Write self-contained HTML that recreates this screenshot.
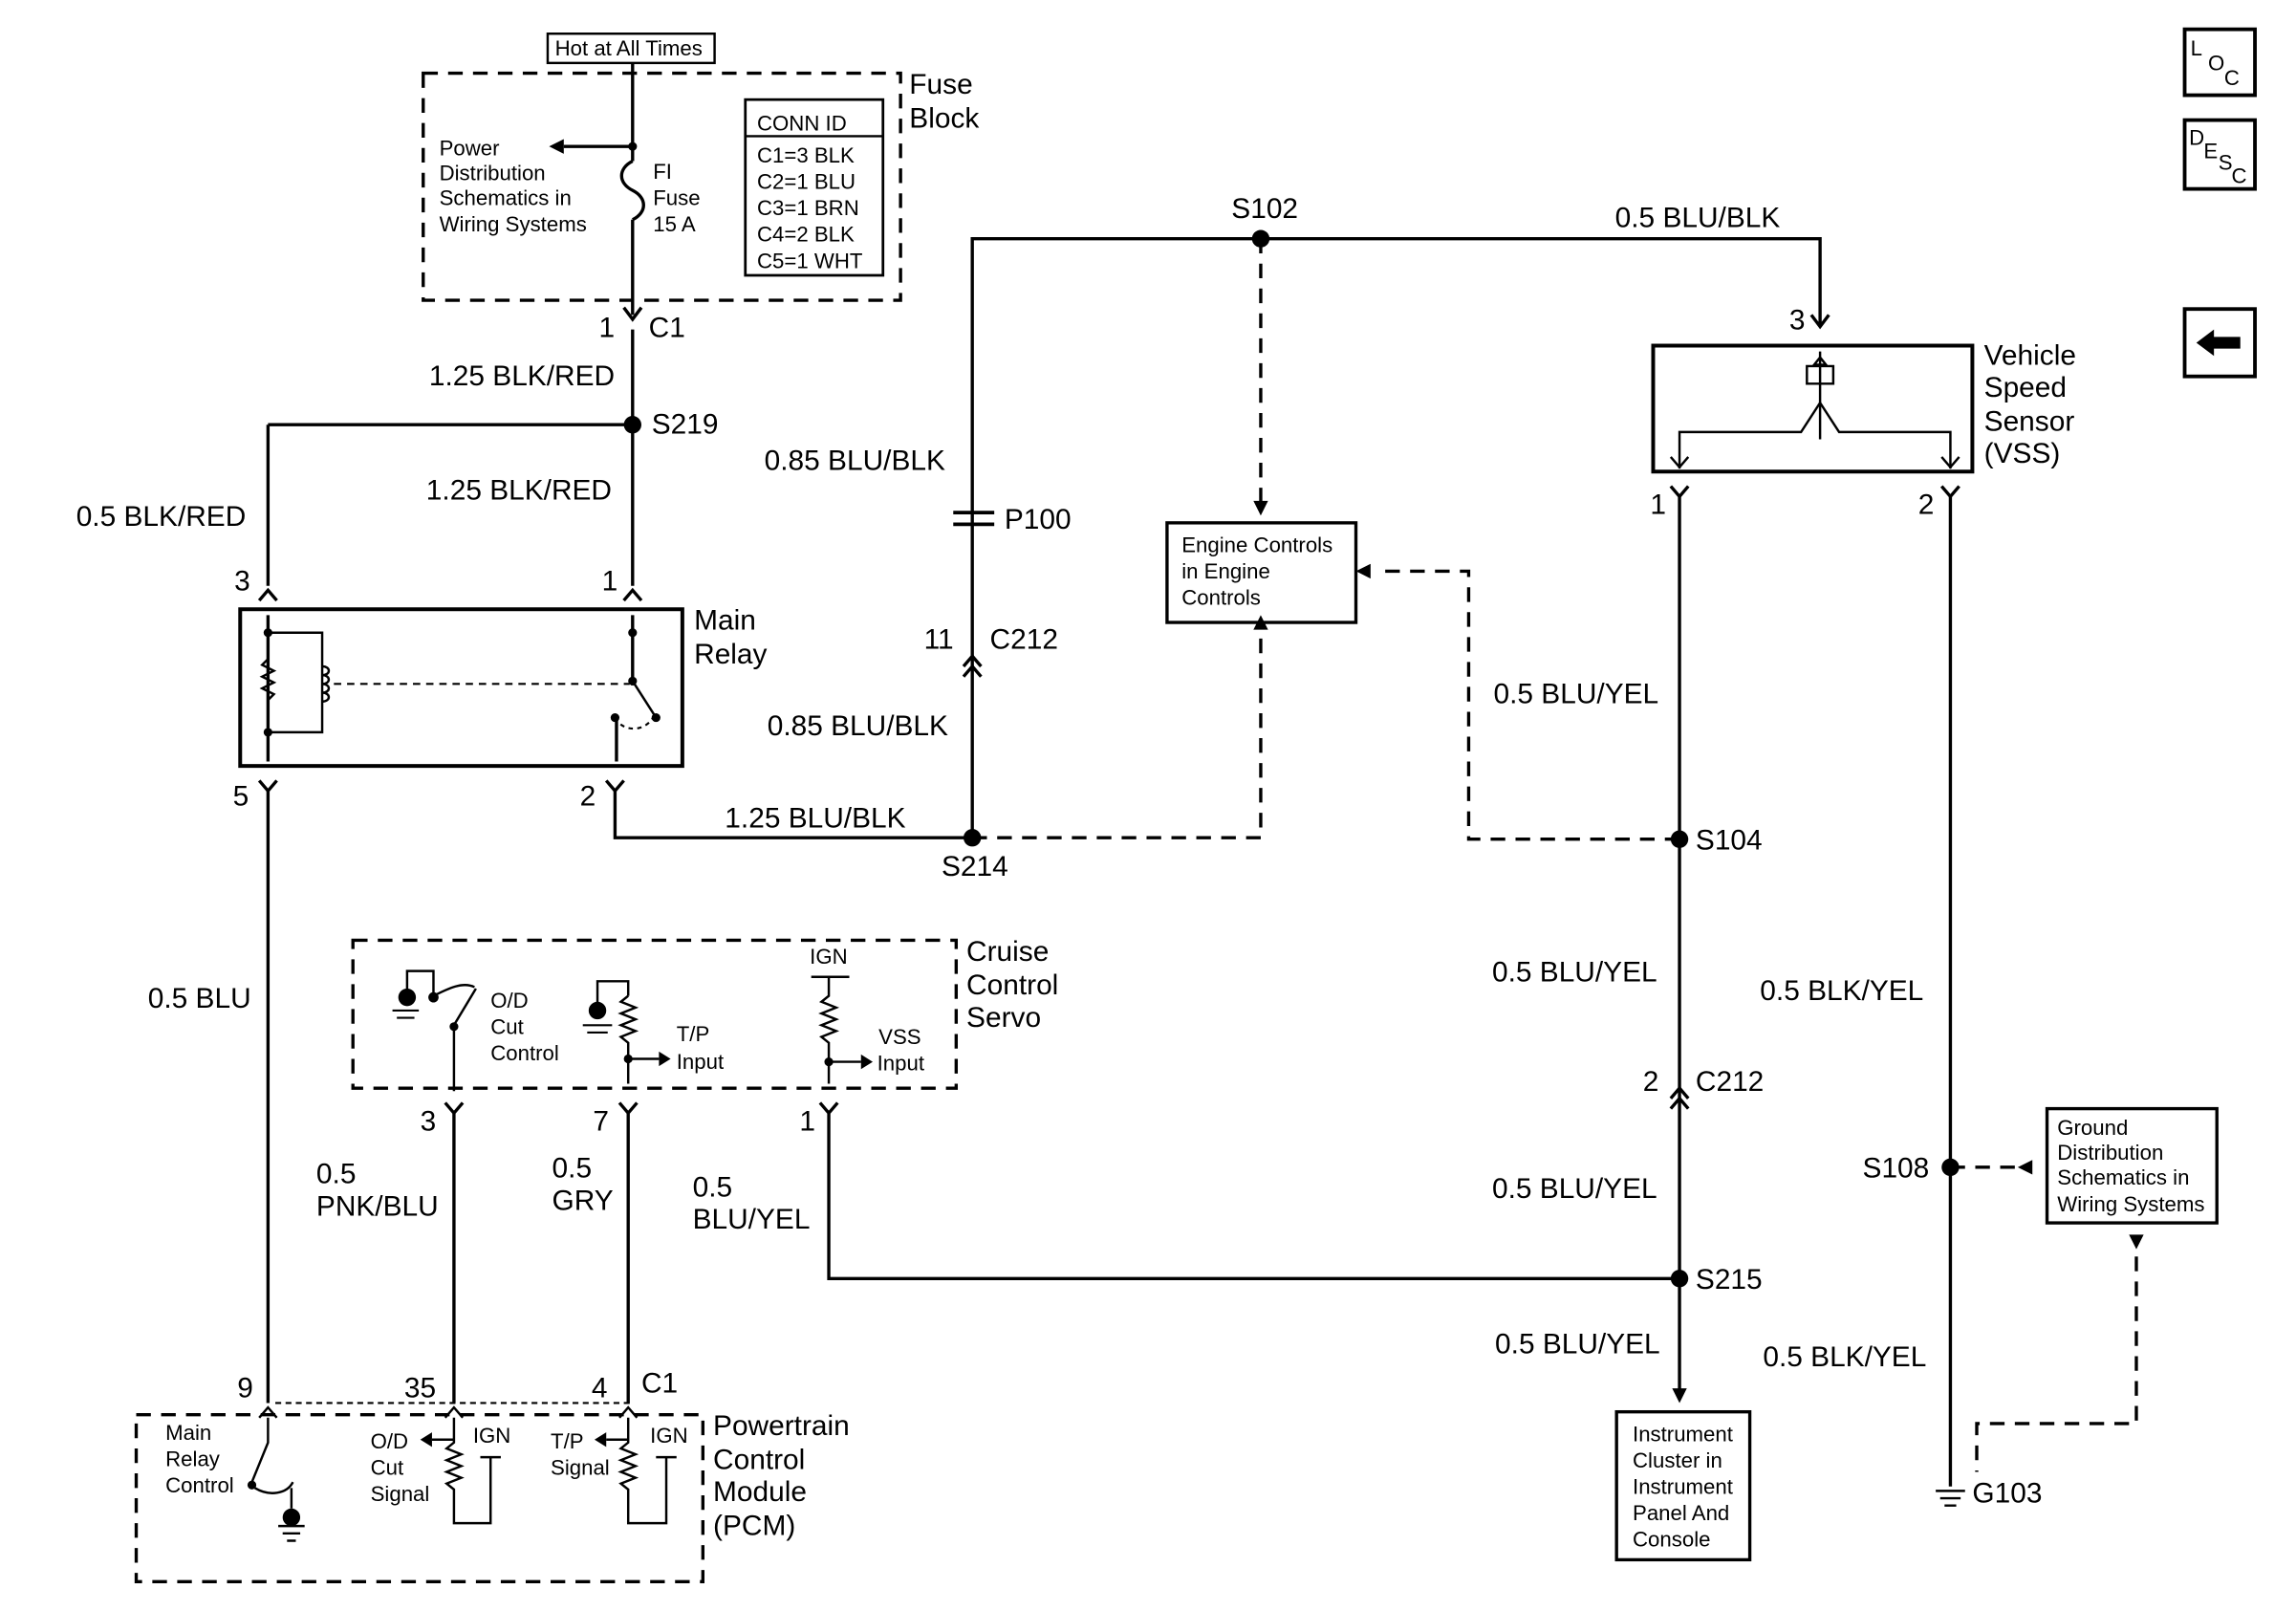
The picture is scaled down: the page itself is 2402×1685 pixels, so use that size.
<!DOCTYPE html>
<html><head><meta charset="utf-8"><style>html,body{margin:0;padding:0;background:#fff;}svg{display:block}</style></head>
<body>
<svg xmlns="http://www.w3.org/2000/svg" width="2402" height="1685" viewBox="0 0 1568 1100" font-family="Liberation Sans, Arial, sans-serif">
<rect width="1568" height="1100" fill="#fff"/>
<g fill="none" stroke="#000" stroke-width="2.2">
<rect x="289" y="50" width="326" height="155" stroke-dasharray="10,7"/>
<rect x="374" y="23" width="114" height="20" stroke-width="1.6"/>
<rect x="509" y="68" width="94" height="120" stroke-width="1.8"/>
<line x1="509" y1="93" x2="603" y2="93" stroke-width="1.5"/>
<path d="M432 43V110 M432 150V215 M432 110c-10 5-10 15 0 20c10 5 10 15 0 20"/>
<path d="M432 100H385"/>
<path d="M426 210l6 8l6-8 M432 225V290 M183 290H432 M432 290V400 M183 290V400"/>
<path d="M177 410l6-7l6 7 M426 410l6-7l6 7"/>
<rect x="164" y="416" width="302" height="107" stroke-width="2.6"/>
<path d="M183 420V520 M432 420V468 M421 520V490"/>
<path d="M183 432H220V500H183 M183 450l-4 4l8 4l-8 4l8 4l-8 4l8 4l-4 4" stroke-width="1.6"/>
<path d="M220 455c6 0 6 6 0 6c6 0 6 6 0 6c6 0 6 6 0 6c6 0 6 6 0 6" stroke-width="1.6"/>
<path d="M228 467H430" stroke-dasharray="5,4" stroke-width="1.4"/>
<path d="M432 465L448 490" stroke-width="1.6"/>
<path d="M420 490c5 10 20 10 26 0" stroke-dasharray="3,3" stroke-width="1.4"/>
<path d="M177 533l6 7l6-7 M414 533l6 7l6-7"/>
<path d="M183 540V958 M420 540V572H664"/>
<path d="M664 572H861V432" stroke-dasharray="10,7"/>
<path d="M664 572V163H1243V222 M1237 215l6 8l6-8"/>
<path d="M861 163V345" stroke-dasharray="10,7"/>
<path d="M651 350H679M651 358H679" stroke-width="2.5"/>
<path d="M658 455l6-7l6 7 M658 462l6-7l6 7"/>
<rect x="797" y="357" width="129" height="68" stroke-width="2.2"/>
<rect x="1129" y="236" width="218" height="86" stroke-width="2.6"/>
<path d="M1243 240V300 M1234 250h18v12h-18z M1243 244l-4 5h8z" stroke-width="1.6"/>
<path d="M1243 275L1230 295H1147V320 M1243 275L1256 295H1332V320" stroke-width="1.6"/>
<path d="M1141 312l6 7l6-7 M1326 312l6 7l6-7" stroke-width="1.6"/>
<path d="M1141 332l6 7l6-7 M1326 332l6 7l6-7"/>
<path d="M1147 339V950 M1332 339V1015"/>
<path d="M1147 573H1003V390H940" stroke-dasharray="10,7"/>
<path d="M1141 750l6-7l6 7 M1141 757l6-7l6 7"/>
<path d="M1147 873H566V760 M560 753l6 7l6-7"/>
<rect x="1104" y="964" width="91" height="101" stroke-width="2.2"/>
<path d="M1332 797H1380" stroke-dasharray="10,7"/>
<rect x="1398" y="757" width="116" height="78" stroke-width="2.2"/>
<path d="M1459 858V972H1350V1005" stroke-dasharray="10,7"/>
<path d="M1322 1018H1342 M1325 1023H1339 M1328 1028H1336" stroke-width="1.6"/>
<rect x="241" y="642" width="412" height="101" stroke-dasharray="10,7"/>
<path d="M310 760V958 M429 760V958 M304 753l6 7l6-7 M423 753l6 7l6-7"/>
<path d="M278 680V663H296V680 M296 680c10-5 20-10 28-6" stroke-width="1.6"/>
<path d="M310 745V700L325 675" stroke-width="1.6"/>
<path d="M408 690V670H429V680 M429 680l-5 4l10 4l-10 4l10 4l-10 4l10 4l-10 4l5 4V740 M429 723H450" stroke-width="1.6"/>
<path d="M554 667H580 M566 667V680l-5 4l10 4l-10 4l10 4l-10 4l10 4l-10 4l5 4V740 M566 725H588" stroke-width="1.6"/>
<path d="M188 958H432" stroke-dasharray="4,3" stroke-width="1.4"/>
<rect x="93" y="966" width="387" height="114" stroke-dasharray="10,7"/>
<path d="M177 968l6-7l6 7 M304 968l6-7l6 7 M423 968l6-7l6 7" stroke-width="1.6"/>
<path d="M183 968V985L172 1012 M174 1016c10 6 22 4 26 -4 M199 1016V1030" stroke-width="1.6"/>
<path d="M310 968V985l-5 4l10 4l-10 4l10 4l-10 4l10 4l-10 4l5 4V1040H335V995 M310 983H295 M328 995H342" stroke-width="1.6"/>
<path d="M429 968V985l-5 4l10 4l-10 4l10 4l-10 4l10 4l-10 4l5 4V1040H455V995 M429 983H414 M448 995H462" stroke-width="1.6"/>
<path d="M190 1042H208 M193 1047H205 M196 1052H202" stroke-width="1.6"/>
<path d="M268 690H286 M271 695H283" stroke-width="1.4"/>
<path d="M398 700H418 M401 705H415" stroke-width="1.4"/>
<rect x="1492" y="20" width="48" height="45" stroke-width="2.5"/>
<rect x="1492" y="82" width="48" height="47" stroke-width="2.5"/>
<rect x="1492" y="211" width="48" height="46" stroke-width="2.5"/>
</g>
<g fill="#000">
<path d="M385 95v10l-10-5z M861 352l-5-10h10z M861 420l-5 10h10z M926 390l10-5v10z M1147 958l-5-10h10z M1378 797l10-5v10z M1454 843h10l-5 10z M450 718v10l8-5z M588 720v10l8-5z M295 978v10l-8-5z M414 978v10l-8-5z"/>
<path d="M1500 234l12-9v5h18v8h-18v5z"/>
<circle cx="432" cy="100" r="3"/><circle cx="432" cy="290" r="6"/><circle cx="664" cy="572" r="6"/>
<circle cx="861" cy="163" r="6"/><circle cx="1147" cy="573" r="6"/><circle cx="1147" cy="873" r="6"/><circle cx="1332" cy="797" r="6"/>
<circle cx="183" cy="432" r="3"/><circle cx="183" cy="500" r="3"/><circle cx="432" cy="432" r="3"/><circle cx="432" cy="465" r="3"/><circle cx="420" cy="490" r="3"/><circle cx="448" cy="490" r="3"/>
<circle cx="278" cy="681" r="6"/><circle cx="296" cy="681" r="3.5"/><circle cx="408" cy="690" r="6"/><circle cx="429" cy="723" r="3"/><circle cx="566" cy="725" r="3"/>
<circle cx="199" cy="1036" r="6"/><circle cx="172" cy="1014" r="3"/><circle cx="310" cy="701" r="3"/>
</g>
<g font-size="19.5">
<text x="621" y="64">Fuse</text><text x="621" y="87">Block</text>
<text x="409" y="230">1</text><text x="443" y="230">C1</text>
<text x="293" y="263">1.25 BLK/RED</text><text x="445" y="296">S219</text>
<text x="291" y="341">1.25 BLK/RED</text><text x="52" y="359">0.5 BLK/RED</text>
<text x="160" y="403">3</text><text x="411" y="403">1</text>
<text x="474" y="430">Main</text><text x="474" y="453">Relay</text>
<text x="159" y="550">5</text><text x="396" y="550">2</text>
<text x="495" y="565">1.25 BLU/BLK</text><text x="643" y="598">S214</text>
<text x="841" y="149">S102</text><text x="1103" y="155">0.5 BLU/BLK</text>
<text x="522" y="321">0.85 BLU/BLK</text><text x="686" y="361">P100</text>
<text x="631" y="443">11</text><text x="676" y="443">C212</text>
<text x="524" y="502">0.85 BLU/BLK</text>
<text x="1222" y="225">3</text>
<text x="1355" y="249">Vehicle</text><text x="1355" y="271">Speed</text><text x="1355" y="294">Sensor</text><text x="1355" y="316">(VSS)</text>
<text x="1127" y="351">1</text><text x="1310" y="351">2</text>
<text x="1020" y="480">0.5 BLU/YEL</text><text x="1158" y="580">S104</text>
<text x="1019" y="670">0.5 BLU/YEL</text><text x="1202" y="683">0.5 BLK/YEL</text>
<text x="1122" y="745">2</text><text x="1158" y="745">C212</text>
<text x="1019" y="818">0.5 BLU/YEL</text><text x="1272" y="804">S108</text>
<text x="1158" y="880">S215</text><text x="1021" y="924">0.5 BLU/YEL</text><text x="1204" y="933">0.5 BLK/YEL</text>
<text x="1347" y="1026">G103</text>
<text x="660" y="656">Cruise</text><text x="660" y="679">Control</text><text x="660" y="701">Servo</text>
<text x="101" y="688">0.5 BLU</text>
<text x="287" y="772">3</text><text x="405" y="772">7</text><text x="546" y="772">1</text>
<text x="216" y="808">0.5</text><text x="216" y="830">PNK/BLU</text>
<text x="377" y="804">0.5</text><text x="377" y="826">GRY</text>
<text x="473" y="817">0.5</text><text x="473" y="839">BLU/YEL</text>
<text x="162" y="954">9</text><text x="276" y="954">35</text><text x="404" y="954">4</text><text x="438" y="951">C1</text>
<text x="487" y="980">Powertrain</text><text x="487" y="1003">Control</text><text x="487" y="1025">Module</text><text x="487" y="1048">(PCM)</text>
</g>
<g font-size="14.5">
<text x="379" y="38">Hot at All Times</text>
<text x="300" y="106">Power</text><text x="300" y="123">Distribution</text><text x="300" y="140">Schematics in</text><text x="300" y="158">Wiring Systems</text>
<text x="446" y="122">FI</text><text x="446" y="140">Fuse</text><text x="446" y="158">15 A</text>
<text x="517" y="89">CONN ID</text><text x="517" y="111">C1=3 BLK</text><text x="517" y="129">C2=1 BLU</text><text x="517" y="147">C3=1 BRN</text><text x="517" y="165">C4=2 BLK</text><text x="517" y="183">C5=1 WHT</text>
<text x="807" y="377">Engine Controls</text><text x="807" y="395">in Engine</text><text x="807" y="413">Controls</text>
<text x="1115" y="984">Instrument</text><text x="1115" y="1002">Cluster in</text><text x="1115" y="1020">Instrument</text><text x="1115" y="1038">Panel And</text><text x="1115" y="1056">Console</text>
<text x="1405" y="775">Ground</text><text x="1405" y="792">Distribution</text><text x="1405" y="809">Schematics in</text><text x="1405" y="827">Wiring Systems</text>
<text x="335" y="688">O/D</text><text x="335" y="706">Cut</text><text x="335" y="724">Control</text>
<text x="462" y="711">T/P</text><text x="462" y="730">Input</text>
<text x="553" y="658">IGN</text>
<text x="600" y="713">VSS</text><text x="599" y="731">Input</text>
<text x="113" y="983">Main</text><text x="113" y="1001">Relay</text><text x="113" y="1019">Control</text>
<text x="253" y="989">O/D</text><text x="253" y="1007">Cut</text><text x="253" y="1025">Signal</text>
<text x="323" y="985">IGN</text>
<text x="376" y="989">T/P</text><text x="376" y="1007">Signal</text>
<text x="444" y="985">IGN</text>
<text x="1496" y="38">L</text><text x="1508" y="48">O</text><text x="1519" y="58">C</text>
<text x="1495" y="99">D</text><text x="1505" y="108">E</text><text x="1515" y="116">S</text><text x="1524" y="125">C</text>
</g>
</svg>
</body></html>
